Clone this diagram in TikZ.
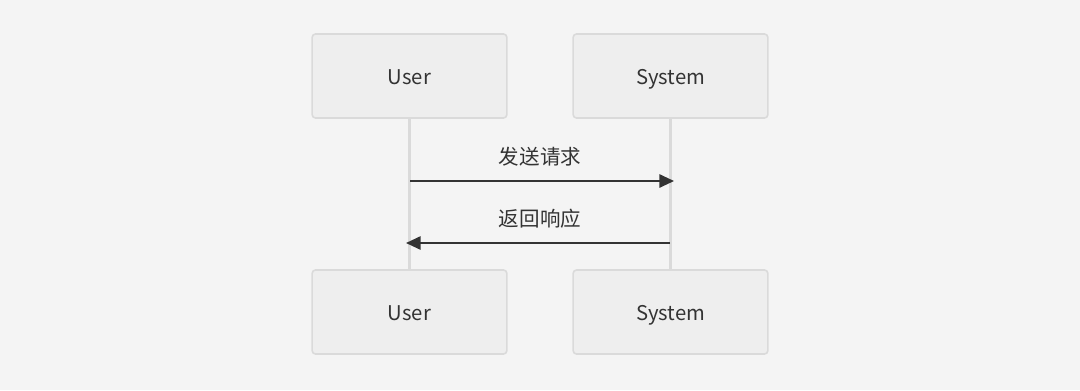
\documentclass[tikz,border=0pt]{standalone}
\usepackage{fontspec}
\setmainfont{Noto Sans CJK SC}
\newfontfamily\cjk{Noto Sans CJK SC}
\usetikzlibrary{arrows.meta}
\definecolor{bg}{HTML}{F4F4F4}
\definecolor{boxfill}{HTML}{EEEEEE}
\definecolor{boxline}{HTML}{DADADA}
\definecolor{txt}{HTML}{333333}
\definecolor{lifeline}{HTML}{DADADA}
\tikzset{
  actor/.style={draw=boxline, fill=boxfill, line width=1.2pt, rounded corners=2.5pt,
    minimum width=146pt, minimum height=63pt, inner sep=0pt, text=txt,
    font=\fontsize{15.2}{18}\selectfont, text height=12pt, text depth=0pt},
  msglabel/.style={text=txt, font=\cjk\fontsize{15.4}{18}\selectfont, inner sep=0pt},
  msg/.style={draw=txt, line width=1.4pt, -{Triangle[length=11pt,width=10pt]}},
  life/.style={draw=lifeline, line width=1.6pt}
}
\begin{document}
\begin{tikzpicture}[x=0.75pt,y=-0.75pt]
\fill[bg] (0,0) rectangle (1080,390);
\useasboundingbox (0,0) rectangle (1080,390);
\node[actor] (u1) at (409.5,76) {User};
\node[actor] (s1) at (670.5,76) {System};
\node[actor] (u2) at (409.5,312) {User};
\node[actor] (s2) at (670.5,312) {System};
\draw[life] (u1.south) -- (u2.north);
\draw[life] (s1.south) -- (s2.north);
\coordinate (a1s) at (410,181);
\coordinate (a1e) at (674,181);
\coordinate (a2s) at (670,243);
\coordinate (a2e) at (406,243);
\draw[msg] (a1s) -- (a1e);
\draw[msg] (a2s) -- (a2e);
\node[msglabel] (l1) at (540,157) {发送请求};
\node[msglabel] (l2) at (540,219) {返回响应};
\end{tikzpicture}
\end{document}
